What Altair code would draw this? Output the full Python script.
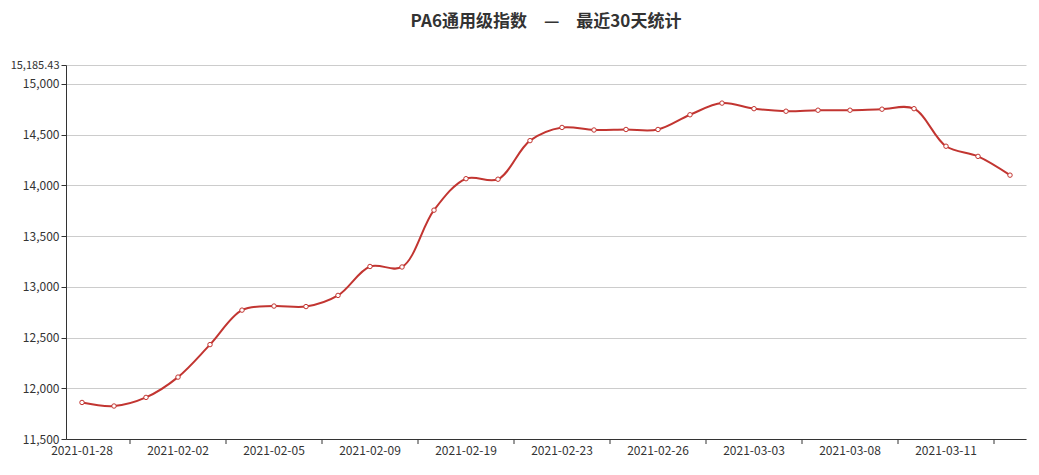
import altair as alt
import pandas as pd

dates = ["2021-01-28", "2021-01-29", "2021-02-01", "2021-02-02", "2021-02-03",
         "2021-02-04", "2021-02-05", "2021-02-07", "2021-02-08", "2021-02-09",
         "2021-02-10", "2021-02-18", "2021-02-19", "2021-02-20", "2021-02-22",
         "2021-02-23", "2021-02-24", "2021-02-25", "2021-02-26", "2021-03-01",
         "2021-03-02", "2021-03-03", "2021-03-04", "2021-03-05", "2021-03-08",
         "2021-03-09", "2021-03-10", "2021-03-11", "2021-03-12", "2021-03-15"]
values = [11860, 11825, 11910, 12110, 12430, 12770, 12810, 12805, 12915, 13200,
          13195, 13755, 14065, 14060, 14440, 14570, 14545, 14550, 14550, 14695,
          14810, 14755, 14730, 14740, 14740, 14750, 14755, 14385, 14285, 14100]
y_min = 11500
y_max = 15185.43
y_ticks = [11500, 12000, 12500, 13000, 13500, 14000, 14500, 15000, 15185.43]

df = pd.DataFrame({"date": dates, "value": values})
label_dates = dates[0::3]
tick_dates = dates[2::3]
tick_df = pd.DataFrame({"date": tick_dates})

RED = "#c23531"
FONT = "Noto Sans CJK SC"

x_scale = alt.Scale(type="band", paddingInner=0, paddingOuter=0, domain=dates)
y_scale = alt.Scale(domain=[y_min, y_max], nice=False, zero=False)

x_axis = alt.Axis(values=label_dates, labelAngle=0, ticks=False, domain=True,
                  domainColor="#333", labelColor="#333", labelFontSize=12,
                  labelFont=FONT, labelPadding=6, title=None, grid=False)
y_axis = alt.Axis(values=y_ticks, format=",.2~f", tickColor="#333", tickSize=5,
                  domainColor="#333", labelColor="#333",
                  labelFontSize={"condition": {"test": "datum.value > 15100", "value": 11},
                                 "value": 12},
                  labelFont=FONT, labelPadding=2, gridColor="#cccccc",
                  title=None, labelOverlap=False, labelFlush=False)

line = alt.Chart(df).mark_line(color=RED, strokeWidth=2,
                               interpolate="catmull-rom").encode(
    x=alt.X("date:O", scale=x_scale, axis=x_axis, sort=dates),
    y=alt.Y("value:Q", scale=y_scale, axis=y_axis),
)

points = alt.Chart(df).mark_point(shape="circle", filled=True, fill="white",
                                  stroke=RED, strokeWidth=1, size=20,
                                  opacity=1).encode(
    x=alt.X("date:O", scale=x_scale, sort=dates),
    y=alt.Y("value:Q", scale=y_scale),
)

ticks = alt.Chart(tick_df).mark_rule(color="#333", strokeWidth=1).encode(
    x=alt.X("date:O", scale=x_scale, bandPosition=0, sort=dates),
    y=alt.value(374),
    y2=alt.value(379),
)

chart = alt.layer(line, points, ticks).properties(
    width=960,
    height=374,
    autosize=alt.AutoSizeParams(type="none"),
    padding={"left": 58, "top": 57, "right": 5, "bottom": 26},
    title=alt.TitleParams(
        text="PA6通用级指数　—　最近30天统计",
        font=FONT, fontSize=17, fontWeight="bold", color="#333",
        anchor="middle", offset=28,
    ),
).configure_view(stroke=None)

chart.save("out.html", embed_options={"renderer": "svg", "actions": False})
